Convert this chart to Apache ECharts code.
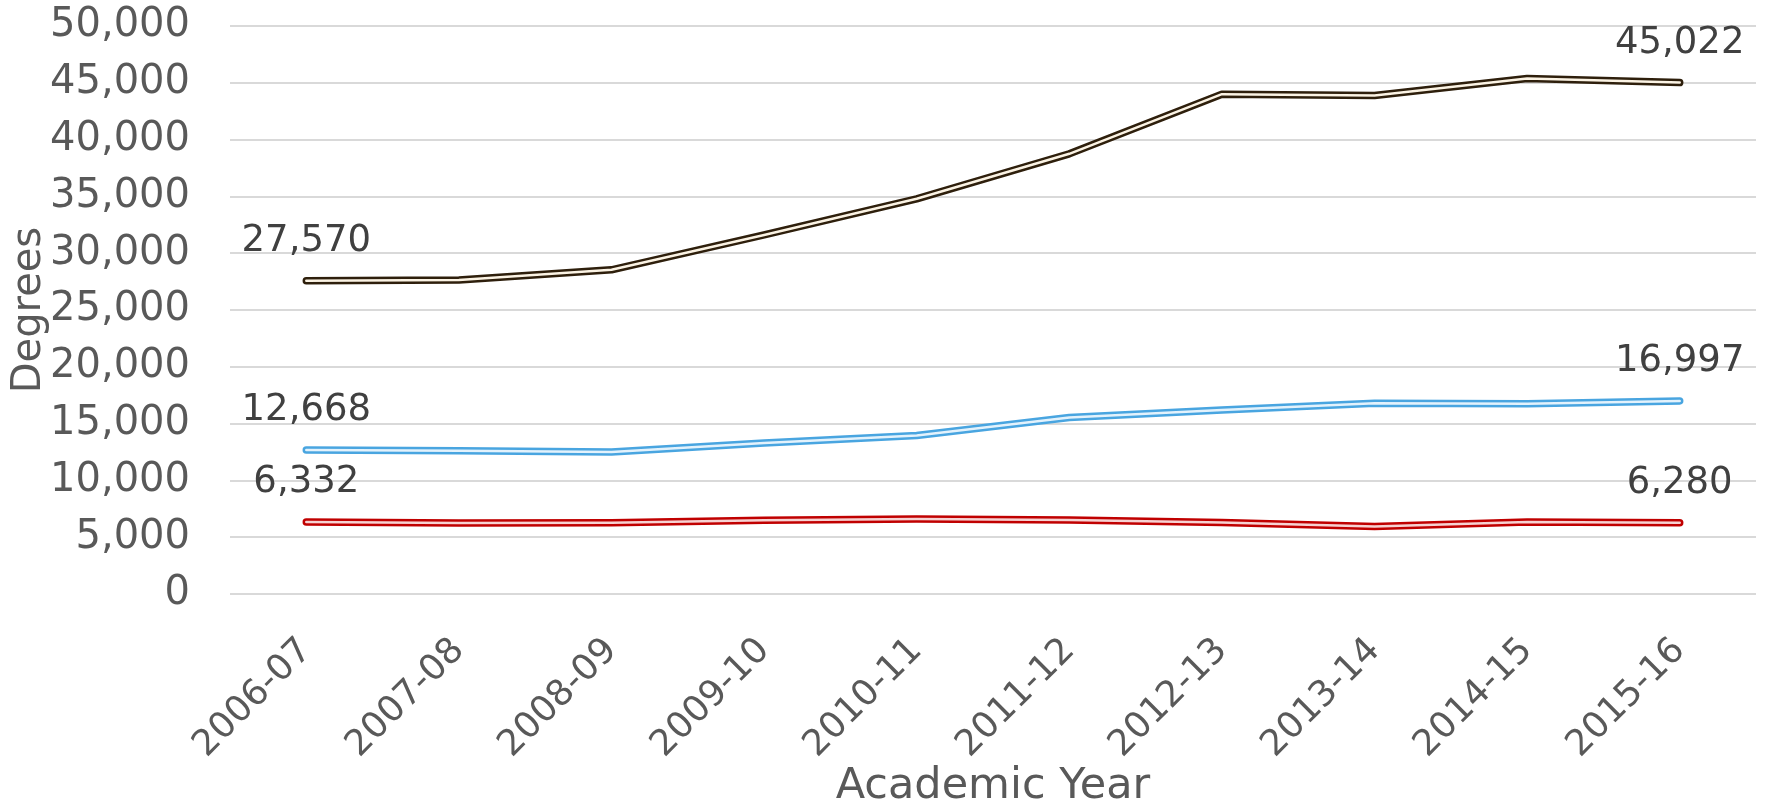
<!DOCTYPE html>
<html>
<head>
<meta charset="utf-8">
<script src="https://cdn.jsdelivr.net/npm/echarts@6/dist/echarts.min.js"></script>
<style>
  html, body { margin: 0; padding: 0; background: #ffffff; }
  #chart { width: 1765px; height: 807px; }
</style>
</head>
<body>
<div id="chart"></div>
<script>
// Degrees awarded per academic year, three series
const years = ['2006-07', '2007-08', '2008-09', '2009-10', '2010-11',
               '2011-12', '2012-13', '2013-14', '2014-15', '2015-16'];
const totalDegrees = [27570, 27650, 28540, 31610, 34790, 38750, 44000, 43880, 45380, 45022];
const blueDegrees  = [12668, 12600, 12500, 13300, 13950, 15530, 16200, 16800, 16750, 16997];
const redDegrees   = [6332, 6250, 6280, 6500, 6600, 6520, 6300, 5950, 6330, 6280];
const yTicks = { min: 0, max: 50000, step: 5000 };

const FONT = 'DejaVu Sans';
const fmt = v => v.toLocaleString('en-US');

// Value labels only at the first and last year
function endLabels(values, firstOffset) {
  return values.map((v, i) => {
    const show = i === 0 || i === values.length - 1;
    return {
      value: v,
      label: show ? {
        show: true,
        position: 'top',
        distance: 20,
        offset: i === 0 ? firstOffset : [0, 0],
        formatter: p => fmt(p.value),
        fontFamily: FONT,
        fontSize: 37,
        color: '#404040'
      } : { show: false }
    };
  });
}

// Each line is drawn as a double stroke: a wide outer stroke with a thin light core
function doubleLine(name, values, outer, inner, firstOffset) {
  return [
    {
      name: name,
      type: 'line',
      data: endLabels(values, firstOffset),
      symbol: 'circle',
      symbolSize: 2,
      showSymbol: true,
      itemStyle: { color: 'rgba(0,0,0,0)', borderWidth: 0 },
      lineStyle: { color: outer, width: 7.5, cap: 'round', join: 'round' },
      labelLayout: { hideOverlap: false },
      z: 2,
      silent: true
    },
    {
      name: name + ' core',
      type: 'line',
      data: values,
      symbol: 'none',
      lineStyle: { color: inner, width: 2.5, cap: 'round', join: 'round' },
      z: 3,
      silent: true
    }
  ];
}

const chart = echarts.init(document.getElementById('chart'), null, { renderer: 'canvas' });
chart.setOption({
  animation: false,
  backgroundColor: '#ffffff',
  grid: { left: 230, right: 9, top: 26, bottom: 213, containLabel: false, outerBoundsMode: 'none' },
  xAxis: {
    type: 'category',
    data: years,
    boundaryGap: true,
    axisLine: { show: false },
    axisTick: { show: false },
    axisLabel: {
      rotate: 45,
      margin: 51,
      fontFamily: FONT,
      fontSize: 36,
      color: '#595959'
    },
    name: 'Academic Year',
    nameLocation: 'middle',
    nameGap: 171,
    nameMoveOverlap: false,
    nameTextStyle: {
      fontFamily: FONT,
      fontSize: 43,
      color: '#595959'
    }
  },
  yAxis: {
    type: 'value',
    min: yTicks.min,
    max: yTicks.max,
    interval: yTicks.step,
    axisLine: { show: false },
    axisTick: { show: false },
    splitLine: { lineStyle: { color: '#d9d9d9', width: 2 } },
    axisLabel: {
      margin: 40,
      fontFamily: FONT,
      fontSize: 40,
      color: '#595959',
      formatter: v => fmt(v)
    },
    name: 'Degrees',
    nameLocation: 'middle',
    nameGap: 180,
    nameMoveOverlap: false,
    nameTextStyle: {
      fontFamily: FONT,
      fontSize: 40,
      color: '#595959'
    }
  },
  series: [
    ...doubleLine('Total', totalDegrees, '#2e1f0c', '#fbf3e4', [-16, 0]),
    ...doubleLine('Blue', blueDegrees, '#49a5e0', '#e3f2fc', [0, 0]),
    ...doubleLine('Red', redDegrees, '#c00000', '#f6d2d2', [0, 0])
  ]
});
</script>
</body>
</html>
